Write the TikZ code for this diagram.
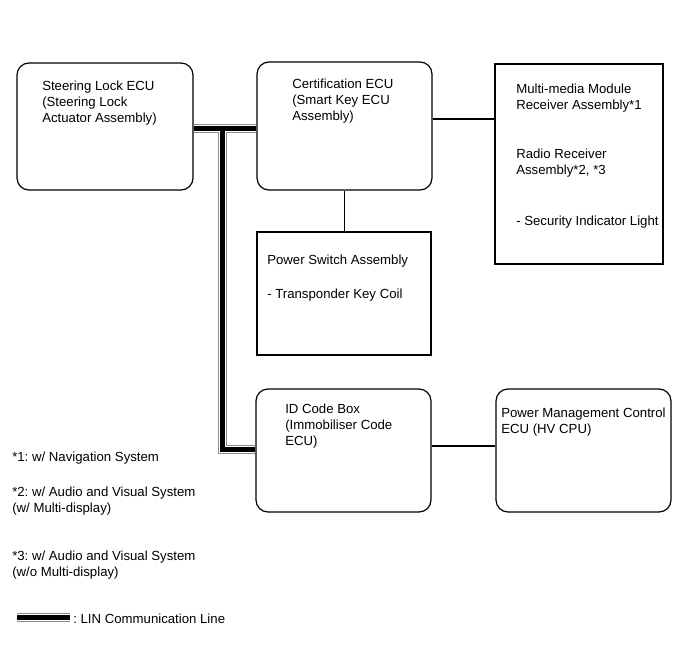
\documentclass[tikz,border=0pt]{standalone}
\usepackage{fontspec}
\setmainfont{Liberation Sans}
\usetikzlibrary{fit}
\frenchspacing
\begin{document}
\begin{tikzpicture}[x=0.75pt,y=-0.75pt,
 rbox/.style={draw, line width=0.9pt, rounded corners=9pt, inner sep=0pt},
 sbox/.style={draw, line width=0.9pt, inner sep=0pt},
 txt/.style={anchor=base west, inner sep=0pt, align=left, font=\fontsize{9.9}{12}\selectfont},
 conn/.style={line width=0.8pt},
 lingray/.style={draw=black!45, line width=6.75pt},
 linwhite/.style={draw=white, line width=5.25pt},
 linblack/.style={draw=black, line width=3.75pt}]
\useasboundingbox (0,0) rectangle (691,660);

% boxes
\node[rbox, fit={(17,63)(193,190)}] (sl) {};
\node[rbox, fit={(257,62)(432,190)}] (cert) {};
\node[sbox, fit={(495,64)(663,264)}] (mm) {};
\node[sbox, fit={(257,232)(431,355)}] (ps) {};
\node[rbox, fit={(256,389)(431,512)}] (id) {};
\node[rbox, fit={(496,389)(671,512)}] (pm) {};

% texts (base anchor = baseline of the last line)
\node[txt] (slt) at (42,122) {Steering Lock ECU\\(Steering Lock\\Actuator Assembly)};
\node[txt] (certt) at (292,120) {Certification ECU\\(Smart Key ECU\\Assembly)};
\node[txt] (mmt1) at (516,109) {Multi-media Module\\Receiver Assembly*1};
\node[txt] (mmt2) at (516,174) {Radio Receiver\\Assembly*2, *3};
\node[txt] (mmt3) at (516,225) {- Security Indicator Light};
\node[txt] (pst1) at (267,264) {Power Switch Assembly};
\node[txt] (pst2) at (267,298) {- Transponder Key Coil};
\node[txt] (idt) at (285,445) {ID Code Box\\(Immobiliser Code\\ECU)};
\node[txt] (pmt) at (501,433.5) {Power Management Control\\ECU (HV CPU)};
\node[txt] (n1) at (12,461) {*1: w/ Navigation System};
\node[txt] (n2) at (12,512.5) {*2: w/ Audio and Visual System\\(w/ Multi-display)};
\node[txt] (n3) at (12,576) {*3: w/ Audio and Visual System\\(w/o Multi-display)};
\node[txt] (legt) at (73,623.5) {: LIN Communication Line};

% plain connectors
\draw[conn] (cert.east |- 0,119) -- (mm.west |- 0,119);
\draw[conn] (cert.south) -- (cert.south |- ps.north);
\draw[conn] (id.east |- 0,446) -- (pm.west |- 0,446);

% LIN communication line
\coordinate (j) at (222.8,128);
\coordinate (jb) at (222.8,449.5);
\coordinate (legA) at (17,617);
\coordinate (legB) at (70,617);
\foreach \s in {lingray,linwhite,linblack}{
  \draw[\s] (sl.east |- j) -- (cert.west |- j);
  \draw[\s] (j) -- (jb) -- (id.west |- jb);
  \draw[\s] (legA) -- (legB);
}
\end{tikzpicture}
\end{document}
